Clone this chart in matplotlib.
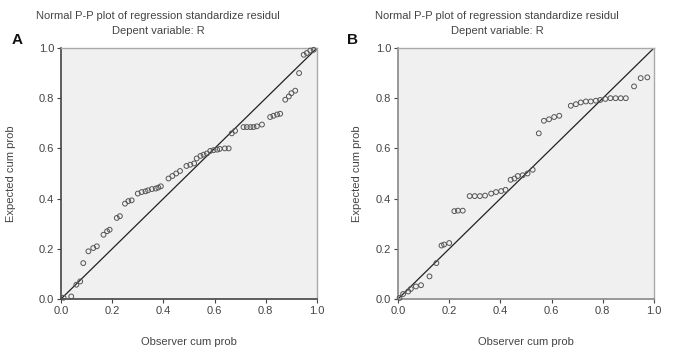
import matplotlib
matplotlib.use("Agg")
import matplotlib.pyplot as plt

plt.rcParams['font.family'] = ['Liberation Sans', 'DejaVu Sans']

# panel A: observed vs expected cumulative probabilities
a_obs = [0.01, 0.04, 0.06, 0.075, 0.087, 0.107, 0.126, 0.14, 0.166, 0.18, 0.19,
         0.218, 0.23, 0.25, 0.263, 0.276, 0.30, 0.315, 0.33, 0.34, 0.355, 0.37,
         0.38, 0.39, 0.42, 0.435, 0.45, 0.465, 0.49, 0.505, 0.52, 0.53, 0.545,
         0.557, 0.57, 0.583, 0.596, 0.61, 0.62, 0.64, 0.655, 0.667, 0.68, 0.713,
         0.726, 0.74, 0.752, 0.765, 0.785, 0.817, 0.83, 0.844, 0.856, 0.876,
         0.89, 0.90, 0.915, 0.93, 0.948, 0.96, 0.974, 0.987]
a_exp = [0.005, 0.01, 0.057, 0.07, 0.143, 0.19, 0.203, 0.21, 0.256, 0.27, 0.276,
         0.323, 0.33, 0.38, 0.39, 0.393, 0.42, 0.426, 0.429, 0.433, 0.438, 0.44,
         0.444, 0.449, 0.48, 0.49, 0.50, 0.51, 0.53, 0.535, 0.54, 0.56, 0.57,
         0.575, 0.58, 0.59, 0.593, 0.595, 0.598, 0.60, 0.60, 0.66, 0.67, 0.685,
         0.685, 0.685, 0.685, 0.688, 0.695, 0.725, 0.73, 0.735, 0.738, 0.794,
         0.807, 0.82, 0.83, 0.90, 0.973, 0.98, 0.99, 0.993]

# panel B
b_obs = [0.006, 0.02, 0.04, 0.05, 0.07, 0.09, 0.123, 0.15, 0.17, 0.18, 0.20,
         0.22, 0.234, 0.253, 0.28, 0.30, 0.32, 0.34, 0.364, 0.383, 0.403, 0.42,
         0.44, 0.455, 0.468, 0.487, 0.506, 0.526, 0.55, 0.57, 0.59, 0.61, 0.63,
         0.675, 0.695, 0.714, 0.734, 0.753, 0.773, 0.79, 0.81, 0.83, 0.85, 0.87,
         0.89, 0.922, 0.948, 0.974]
b_exp = [0.004, 0.02, 0.03, 0.04, 0.05, 0.055, 0.09, 0.143, 0.213, 0.217, 0.223,
         0.35, 0.352, 0.352, 0.41, 0.41, 0.41, 0.412, 0.42, 0.426, 0.43, 0.435,
         0.475, 0.48, 0.49, 0.493, 0.50, 0.515, 0.66, 0.71, 0.716, 0.725, 0.73,
         0.77, 0.776, 0.783, 0.787, 0.787, 0.79, 0.793, 0.797, 0.80, 0.80, 0.80,
         0.80, 0.847, 0.88, 0.883]

ticks = [0.0, 0.2, 0.4, 0.6, 0.8, 1.0]
tick_labels = ['0.0', '0.2', '0.4', '0.6', '0.8', '1.0']

W, H = 679, 356
fig = plt.figure(figsize=(W / 100, H / 100), dpi=100)
txt = '#444444'


def make_panel(left, label, label_x, title_x, ypad, spine_col, obs, exp):
    ax = fig.add_axes([left / W, 1 - 299 / H, 256 / W, 251 / H])
    ax.set_facecolor('#f0f0f0')
    ax.plot([0, 1], [0, 1], color='#222222', lw=0.9, zorder=2)
    ax.scatter(obs, exp, s=12, facecolors='none', edgecolors='#555555',
               linewidths=0.7, zorder=3, clip_on=False)
    ax.set_xlim(0, 1)
    ax.set_ylim(0, 1)
    ax.set_xticks(ticks)
    ax.set_xticklabels(tick_labels)
    ax.set_yticks(ticks)
    ax.set_yticklabels(tick_labels)
    ax.tick_params(labelsize=8, colors=txt, length=3, width=0.8, pad=2)
    for s in ('left', 'bottom'):
        ax.spines[s].set_color(spine_col)
        ax.spines[s].set_linewidth(1.2)
    for s in ('top', 'right'):
        ax.spines[s].set_color('#aaaaaa')
        ax.spines[s].set_linewidth(1.0)
    ax.set_xlabel('Observer cum prob', fontsize=8, color=txt, labelpad=15)
    ax.set_ylabel('Expected cum prob', fontsize=8, color=txt, labelpad=ypad)
    fig.text(title_x / W, 1 - 16 / H,
             'Normal P-P plot of regression standardize residul',
             ha='center', va='center', fontsize=8, color=txt)
    fig.text(title_x / W, 1 - 31 / H, 'Depent variable: R',
             ha='center', va='center', fontsize=8, color=txt)
    fig.text(label_x / W, 1 - 40 / H, label, ha='left', va='center',
             fontsize=11, fontweight='bold', color='#111111')
    return ax


make_panel(61, 'A', 12, 158, 16, '#444444', a_obs, a_exp)
make_panel(398, 'B', 347, 497, 10, '#888888', b_obs, b_exp)

fig.savefig('out.png', dpi=100)
